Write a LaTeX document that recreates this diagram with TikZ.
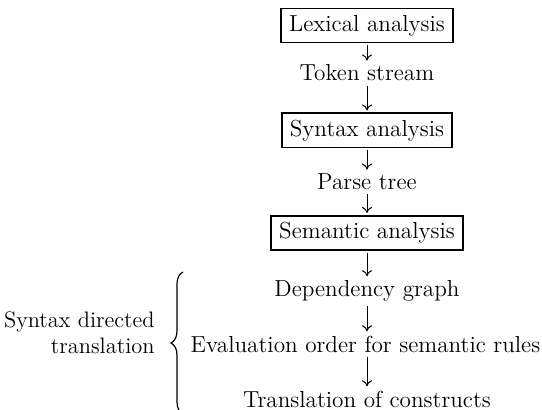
\documentclass[tikz,border=0pt]{standalone}
\usepackage{tikz}
\usetikzlibrary{arrows.meta}
\usetikzlibrary{decorations.pathreplacing}

\tikzset{
  phase/.style={draw, line width=0.8pt, minimum height=15.5pt, inner xsep=4pt},
  result/.style={inner sep=1pt},
  flow/.style={-{To[length=3pt,width=5pt]}, line width=0.5pt, shorten <=1pt, shorten >=1pt}
}

\begin{document}
\begin{tikzpicture}[x=0.5pt,y=-0.5pt,font=\fontsize{11.6}{13}\selectfont]
        \useasboundingbox (0,0) rectangle (542,410);
        % phases
        \node[phase] (lex) at (367,25.5) {Lexical analysis};
        \node[result] (tok) at (367,73) {Token stream};
        \node[phase] (syn) at (367,130.5) {Syntax analysis};
        \node[result] (tree) at (367,182) {Parse tree};
        \node[phase] (sem) at (367,233) {Semantic analysis};
        \node[result] (dep) at (367,291) {Dependency graph};
        \node[result] (eval) at (365.5,344) {Evaluation order for semantic rules};
        \node[result] (trans) at (367,399) {Translation of constructs};
        \draw[flow] (lex) -- (tok);
        \draw[flow] (tok) -- (syn);
        \draw[flow] (syn) -- (tree);
        \draw[flow] (tree) -- (sem);
        \draw[flow] (sem) -- (dep);
        \draw[flow] (dep) -- (dep |- eval.north);
        \draw[flow] (dep |- eval.south) -- (trans);
        % brace
        \coordinate (btop) at (183,272);
        \coordinate (bbot) at (183,414);
        \draw[line width=0.6pt, decorate, decoration={brace, amplitude=6pt}] (bbot) -- (btop);
        \node[align=right, anchor=east, inner sep=1pt, font=\fontsize{11.2}{13}\selectfont] (sdt) at (157,333) {Syntax directed\\translation};
\end{tikzpicture}
\end{document}
